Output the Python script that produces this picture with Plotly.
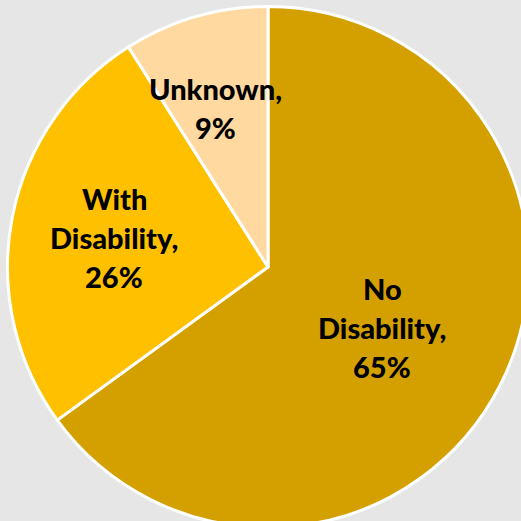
import plotly.graph_objects as go

# Disability status breakdown
categories = ["No<br>Disability", "With<br>Disability", "Unknown"]
shares = [65, 26, 9]
colors = ["#D4A000", "#FFC000", "#FFD9A0"]

# label anchor points (pixels from the top-left of the figure)
label_px = [(382, 327), (114, 237), (215, 108)]

W = H = 540
cx, cy, r = 268, 267, 260.5
line_gap = 39  # px between label lines

fig = go.Figure(
    go.Pie(
        labels=categories,
        values=shares,
        sort=False,
        direction="clockwise",
        rotation=0,
        marker=dict(colors=colors, line=dict(color="white", width=3)),
        textinfo="none",
        hoverinfo="label+percent",
        showlegend=False,
        domain=dict(
            x=[(cx - r) / W, (cx + r) / W],
            y=[(H - cy - r) / H, (H - cy + r) / H],
        ),
    )
)

for name, val, (px, py) in zip(categories, shares, label_px):
    lines = f"{name},<br>{val}%".split("<br>")
    n = len(lines)
    for i, line in enumerate(lines):
        ly = py + (i - (n - 1) / 2) * line_gap
        fig.add_annotation(
            x=px / W,
            y=1 - ly / H,
            xref="paper",
            yref="paper",
            xanchor="center",
            yanchor="middle",
            showarrow=False,
            text=line,
            font=dict(family="Lato", size=29, color="black", weight=900),
        )

fig.update_layout(
    width=W,
    height=H,
    margin=dict(l=0, r=0, t=0, b=0),
    paper_bgcolor="#E6E6E6",
    plot_bgcolor="#E6E6E6",
)

fig.write_html(
    "out.html",
    config={"displayModeBar": False},
    post_script="document.documentElement.style.overflow='hidden';document.body.style.overflow='hidden';document.body.style.margin='0';",
)
